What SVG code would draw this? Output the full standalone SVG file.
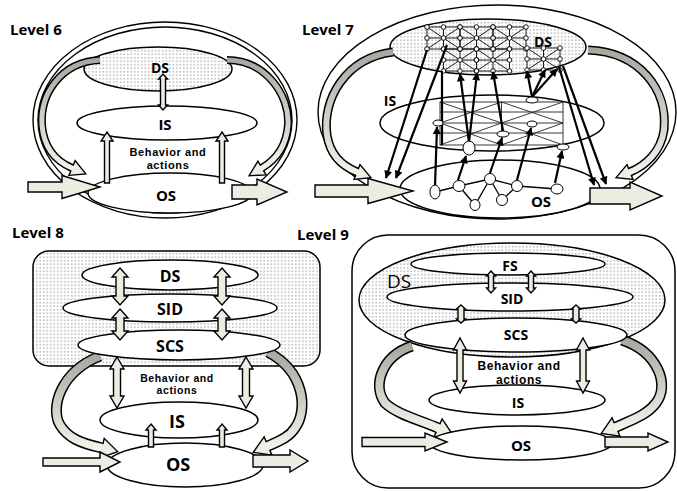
<svg xmlns="http://www.w3.org/2000/svg" width="677" height="491" viewBox="0 0 677 491">
<defs>
<pattern id="dots" width="3.5" height="3.5" patternUnits="userSpaceOnUse"><rect width="3.5" height="3.5" fill="#fff"/><circle cx="1.75" cy="1.75" r="0.6" fill="#666"/></pattern>
<linearGradient id="cg" x1="0" y1="0" x2="0" y2="1"><stop offset="0" stop-color="#a8a8a0"/><stop offset="1" stop-color="#f2f2ea"/></linearGradient>
<marker id="ah" viewBox="0 0 10 10" refX="9" refY="5" markerWidth="9" markerHeight="8" orient="auto" markerUnits="userSpaceOnUse"><path d="M0,0L10,5L0,10z" fill="#000"/></marker>
<g id="cell"><path d="M0,0H33V22H0ZM0,0L33,22M33,0L0,22M0,11H33M16.5,0V22" fill="none" stroke="#000" stroke-width="0.9"/>
<g fill="#fff" stroke="#000" stroke-width="0.9"><circle cx="0" cy="0" r="2.3"/><circle cx="16.5" cy="0" r="2.3"/><circle cx="33" cy="0" r="2.3"/><circle cx="0" cy="11" r="2.3"/><circle cx="16.5" cy="11" r="2.3"/><circle cx="33" cy="11" r="2.3"/><circle cx="0" cy="22" r="2.3"/><circle cx="16.5" cy="22" r="2.3"/><circle cx="33" cy="22" r="2.3"/></g></g>
</defs>
<style>
.t{font-family:"Open Sans","DejaVu Sans",sans-serif;font-weight:700;text-anchor:middle;dominant-baseline:central;fill:#000}
.b{font-family:"Liberation Sans",Arial,sans-serif;font-weight:700;text-anchor:middle;letter-spacing:0.6px;fill:#000}
.lv{font-family:"Open Sans","DejaVu Sans",sans-serif;font-weight:700;font-size:15px;fill:#000}
.ring{fill:none;stroke:#000;stroke-width:1.4}
.el{fill:#fff;stroke:#000;stroke-width:1.5}
.dt{fill:url(#dots);stroke:#000;stroke-width:1.5}
.ba{fill:#ecece3;stroke:#000;stroke-width:1.4;stroke-linejoin:miter}
.cd{fill:none;stroke:#000}
.cl{fill:none;stroke:url(#cg)}
.hd{fill:#eeeee6;stroke:#000;stroke-width:1.4;stroke-linejoin:miter}
.bl{stroke:#000;stroke-width:2.2;fill:none;marker-end:url(#ah)}
.gr{fill:none;stroke:#222;stroke-width:0.9}
.nd{fill:#fff;stroke:#000;stroke-width:1}
</style>
<rect width="677" height="491" fill="#fff"/>

<!-- ============ LEVEL 6 ============ -->
<text class="lv" x="10" y="35">Level 6</text>
<g id="l6-boundary"><ellipse class="ring" cx="165" cy="120" rx="132" ry="98"/><ellipse class="ring" cx="165" cy="120" rx="127" ry="93"/></g>
<g id="l6-ds"><ellipse class="dt" cx="158" cy="69" rx="74" ry="22"/><text class="t" x="160" y="67" font-size="14">DS</text></g>
<g id="l6-is"><ellipse class="el" cx="167" cy="123" rx="90" ry="17"/><text class="t" x="165" y="124" font-size="15">IS</text></g>
<g id="l6-os"><ellipse class="el" cx="170" cy="193" rx="82" ry="20"/><text class="t" x="166" y="195" font-size="15">OS</text></g>
<g id="l6-behavior"><text class="b" font-size="11" x="168" y="155.5">Behavior and</text><text class="b" font-size="11" x="168" y="168.5">actions</text></g>
<g id="l6-connectors">
<path class="cd" stroke-width="8" d="M100,60 C60,62 40,95 42,125 C44,150 58,162 72,168 l1.8,0.8"/>
<polygon class="hd" points="68.85,175.35 85.8,173.9 75.15,160.65"/>
<path class="cl" stroke-width="5" d="M100,60 C60,62 40,95 42,125 C44,150 58,162 72,168 l1.8,0.8"/>
<path class="cd" stroke-width="8" d="M227,60 C265,60 290,95 288,125 C286,150 272,162 262,168 l-1.7,1"/>
<polygon class="hd" points="257.9,161.1 249.1,175.7 266.1,174.9"/>
<path class="cl" stroke-width="5" d="M227,60 C265,60 290,95 288,125 C286,150 272,162 262,168 l-1.7,1"/>
<polygon class="ba" points="163,74 167.5,79 165.5,79 165.5,105 167.5,105 163,110 158.5,105 160.5,105 160.5,79 158.5,79"/>
<polygon class="ba" points="107,132 113,141 109.5,141 109.5,183 104.5,183 104.5,141 101,141"/>
<polygon class="ba" points="222,132 228,141 224.5,141 224.5,183 219.5,183 219.5,141 216,141"/>
<polygon class="ba" points="28,182 62,182 62,175.5 100,187 62,198.5 62,192 28,192"/>
<polygon class="ba" points="232,185 257,185 257,179 287,192 257,205 257,199 232,199"/>
</g>

<!-- ============ LEVEL 7 ============ -->
<text class="lv" x="302" y="35">Level 7</text>
<g id="l7-boundary"><ellipse class="ring" cx="497" cy="112" rx="179" ry="107"/></g>
<g id="l7-ds"><ellipse class="dt" cx="488" cy="47" rx="98" ry="28"/><text class="t" x="543" y="41" font-size="14">DS</text></g>
<g id="l7-connectors-curved">
<path class="cd" stroke-width="9" d="M393,52 C345,58 322,100 327,135 C330,155 342,166 357,172 l1.9,0.7"/>
<polygon class="hd" points="354,179.4 370.9,177.6 360,164.6"/>
<path class="cl" stroke-width="6" d="M393,52 C345,58 322,100 327,135 C330,155 342,166 357,172 l1.9,0.7"/>
<path class="cd" stroke-width="9" d="M588,50 C640,52 668,90 664,130 C661,152 645,166 630,172 l-1.9,0.7"/>
<polygon class="hd" points="627,164.6 616.1,177.6 633,179.4"/>
<path class="cl" stroke-width="6" d="M588,50 C640,52 668,90 664,130 C661,152 645,166 630,172 l-1.9,0.7"/>
</g>
<g id="l7-is"><ellipse class="el" cx="492" cy="123" rx="112" ry="28"/><text class="t" x="390" y="100" font-size="14">IS</text></g>
<g id="l7-os"><ellipse class="el" cx="500" cy="189" rx="100" ry="29"/><text class="t" x="541" y="201" font-size="15">OS</text></g>
<g id="l7-ds-grid">
<use href="#cell" x="427" y="27"/><use href="#cell" x="460" y="27"/><use href="#cell" x="493" y="27"/>
<use href="#cell" x="443.5" y="49"/><use href="#cell" x="476.5" y="49"/><use href="#cell" x="527" y="48"/>
</g>
<g id="l7-is-grid">
<rect x="440" y="102" width="123" height="43" class="gr"/>
<path class="gr" d="M501.5,102V145M440,112H563M440,123H563M440,133H563M440,102L501.5,123M501.5,102L440,123M501.5,102L563,123M563,102L501.5,123M440,123L501.5,145M501.5,123L440,145M501.5,123L563,145M563,123L501.5,145"/>
<path d="M442,71V145" stroke="#000" stroke-width="2.2"/>
</g>
<g id="l7-os-graph">
<path fill="none" stroke="#000" stroke-width="1.3" d="M435,192L459,186L490,179L517,186L557,189M459,186L475,205L490,179L502,200L517,186"/>
</g>
<g id="l7-connectors">
<line class="bl" x1="427" y1="50" x2="386" y2="178"/>
<line class="bl" x1="447" y1="45" x2="396" y2="178"/>
<line class="bl" x1="559" y1="67" x2="594" y2="185"/>
<line class="bl" x1="563" y1="66" x2="606" y2="184"/>
<line class="bl" x1="469" y1="142" x2="460" y2="74"/>
<line class="bl" x1="469" y1="142" x2="477" y2="73"/>
<line class="bl" x1="503" y1="131" x2="493" y2="72"/>
<line class="bl" x1="532" y1="97" x2="527" y2="71"/>
<line class="bl" x1="532" y1="97" x2="545" y2="70"/>
<line class="bl" x1="532" y1="97" x2="557" y2="69"/>
<line class="bl" x1="435" y1="186" x2="437" y2="127"/>
<line class="bl" x1="458" y1="180" x2="466" y2="156"/>
<line class="bl" x1="490" y1="173" x2="502" y2="138" stroke-width="3.5"/>
<line class="bl" x1="517" y1="180" x2="531" y2="128"/>
<line class="bl" x1="555" y1="183" x2="562" y2="151"/>
</g>
<g id="l7-nodes">
<ellipse class="nd" cx="438" cy="123" rx="5" ry="3"/><ellipse class="nd" cx="469" cy="148" rx="6" ry="7"/><ellipse class="nd" cx="503" cy="134" rx="6" ry="3"/><ellipse class="nd" cx="532" cy="124" rx="5" ry="3"/><ellipse class="nd" cx="532" cy="100" rx="6" ry="3"/><ellipse class="nd" cx="563" cy="147" rx="6" ry="3"/>
<ellipse class="nd" cx="435" cy="192" rx="5" ry="7"/><ellipse class="nd" cx="459" cy="186" rx="6" ry="5.5"/><ellipse class="nd" cx="475" cy="205" rx="5" ry="5.5"/><ellipse class="nd" cx="490" cy="179" rx="5.5" ry="5.5"/><ellipse class="nd" cx="502" cy="200" rx="5.5" ry="5.5"/><ellipse class="nd" cx="517" cy="186" rx="5.5" ry="5.5"/><ellipse class="nd" cx="557" cy="189" rx="6" ry="5"/>
</g>
<g id="l7-io">
<polygon class="ba" points="315,185 368,185 368,178.5 413,191 368,203.5 368,197 315,197"/>
<polygon class="ba" points="590,188 630,188 630,182 662,196 630,210 630,204 590,204"/>
</g>

<!-- ============ LEVEL 8 ============ -->
<text class="lv" x="12" y="238">Level 8</text>
<g id="l8-boundary"><rect x="33" y="251" width="287" height="115" rx="16" class="dt" stroke-width="2.5"/></g>
<g id="l8-connectors-curved">
<path class="cd" stroke-width="11" d="M100,356 C60,372 50,408 60,425 C68,438 80,443 102,448 l2,0.4"/>
<polygon class="hd" points="99.8,457.8 117.6,451.6 104.2,438.3"/>
<path class="cl" stroke-width="8" d="M100,356 C60,372 50,408 60,425 C68,438 80,443 102,448 l2,0.4"/>
<path class="cd" stroke-width="11" d="M268,352 C305,372 308,410 295,428 C290,436 282,440 268,446 l-1.8,0.8"/>
<polygon class="hd" points="264.1,436.8 253.3,452.3 271.9,455.2"/>
<path class="cl" stroke-width="8" d="M268,352 C305,372 308,410 295,428 C290,436 282,440 268,446 l-1.8,0.8"/>
</g>
<g id="l8-ds"><ellipse class="el" cx="170" cy="275" rx="88" ry="15"/><text class="t" x="170" y="276" font-size="16">DS</text></g>
<g id="l8-sid"><ellipse class="el" cx="170" cy="308" rx="107" ry="14"/><text class="t" x="170" y="309" font-size="16">SID</text></g>
<g id="l8-scs"><ellipse class="el" cx="179" cy="345" rx="101" ry="15"/><text class="t" x="170" y="346" font-size="16">SCS</text></g>
<g id="l8-behavior"><text class="b" font-size="10.5" x="177" y="382">Behavior and</text><text class="b" font-size="10.5" x="177" y="394">actions</text></g>
<g id="l8-is"><ellipse class="el" cx="179" cy="420" rx="79" ry="18"/><text class="t" x="177" y="421" font-size="18">IS</text></g>
<g id="l8-os"><ellipse class="el" cx="185" cy="465" rx="78" ry="22"/><text class="t" x="178" y="464" font-size="18">OS</text></g>
<g id="l8-connectors">
<polygon class="ba" points="120,268 128,277 124,277 124,296 128,296 120,305 112,296 116,296 116,277 112,277"/>
<polygon class="ba" points="222,268 230,277 226,277 226,296 230,296 222,305 214,296 218,296 218,277 214,277"/>
<polygon class="ba" points="120,309 128,318 124,318 124,331 128,331 120,340 112,331 116,331 116,318 112,318"/>
<polygon class="ba" points="222,309 230,318 226,318 226,331 230,331 222,340 214,331 218,331 218,318 214,318"/>
<polygon class="ba" points="117,357 124,369 120.5,369 120.5,396 124,396 117,408 110,396 113.5,396 113.5,369 110,369"/>
<polygon class="ba" points="246,357 253,369 249.5,369 249.5,396 253,396 246,408 239,396 242.5,396 242.5,369 239,369"/>
<polygon class="ba" points="151,424 156,430 153.5,430 153.5,447 148.5,447 148.5,430 146,430"/>
<polygon class="ba" points="222,424 227,430 224.5,430 224.5,447 219.5,447 219.5,430 217,430"/>
<polygon class="ba" points="43,458 100,458 100,452 120,462 100,472 100,466 43,466"/>
<polygon class="ba" points="253,455 290,455 290,450 308,461 290,472 290,467 253,467"/>
</g>

<!-- ============ LEVEL 9 ============ -->
<text class="lv" x="297" y="240">Level 9</text>
<g id="l9-boundary"><rect x="352" y="235" width="323" height="253" rx="36" fill="none" stroke="#000" stroke-width="1.5"/></g>
<g id="l9-ds"><ellipse class="dt" cx="512" cy="300" rx="153" ry="57"/><text x="387" y="288" font-family="Open Sans, DejaVu Sans, sans-serif" font-size="19" fill="#000">DS</text></g>
<g id="l9-connectors-curved">
<path class="cd" stroke-width="11" d="M412,346 C382,356 372,385 385,403 C398,415 420,420 438,428 l1.8,0.8"/>
<polygon class="hd" points="433.9,437.1 452.6,434.5 442.1,418.9"/>
<path class="cl" stroke-width="8" d="M412,346 C382,356 372,385 385,403 C398,415 420,420 438,428 l1.8,0.8"/>
<path class="cd" stroke-width="11" d="M622,340 C658,352 670,385 656,403 C647,415 632,420 616,427 l-1.8,0.8"/>
<polygon class="hd" points="612,417.8 601.3,433.4 620,436.2"/>
<path class="cl" stroke-width="8" d="M622,340 C658,352 670,385 656,403 C647,415 632,420 616,427 l-1.8,0.8"/>
</g>
<g id="l9-fs"><ellipse class="el" cx="508" cy="264" rx="97" ry="11"/><text class="t" x="510" y="265" font-size="14">FS</text></g>
<g id="l9-sid"><ellipse class="el" cx="510" cy="297" rx="123" ry="14"/><text class="t" x="512" y="298" font-size="14">SID</text></g>
<g id="l9-scs"><ellipse class="el" cx="516" cy="335" rx="111" ry="17"/><text class="t" x="516" y="334" font-size="14">SCS</text></g>
<g id="l9-behavior"><text class="b" font-size="12" x="519" y="370">Behavior and</text><text class="b" font-size="12" x="519" y="383.5">actions</text></g>
<g id="l9-is"><ellipse class="el" cx="517" cy="400" rx="88" ry="15"/><text class="t" x="518" y="402" font-size="14">IS</text></g>
<g id="l9-os"><ellipse class="el" cx="521" cy="443" rx="91" ry="17"/><text class="t" x="521" y="445" font-size="15">OS</text></g>
<g id="l9-connectors">
<polygon class="ba" points="491,271 495.5,276 493.5,276 493.5,288 495.5,288 491,293 486.5,288 488.5,288 488.5,276 486.5,276"/>
<polygon class="ba" points="531,271 535.5,276 533.5,276 533.5,288 535.5,288 531,293 526.5,288 528.5,288 528.5,276 526.5,276"/>
<polygon class="ba" points="461,305 465.5,309 464,309 464,319 465.5,319 461,323 456.5,319 458,319 458,309 456.5,309"/>
<polygon class="ba" points="576,305 580.5,309 579,309 579,319 580.5,319 576,323 571.5,319 573,319 573,309 571.5,309"/>
<polygon class="ba" points="460,338 466.5,350 463,350 463,381 466.5,381 460,393 453.5,381 457,381 457,350 453.5,350"/>
<polygon class="ba" points="583,338 589.5,350 586,350 586,381 589.5,381 583,393 576.5,381 580,381 580,350 576.5,350"/>
<polygon class="ba" points="362,437.5 425,437.5 425,433 447,442 425,451 425,446.5 362,446.5"/>
<polygon class="ba" points="605,437 648,437 648,433 668,442 648,451 648,447 605,447"/>
</g>
</svg>
